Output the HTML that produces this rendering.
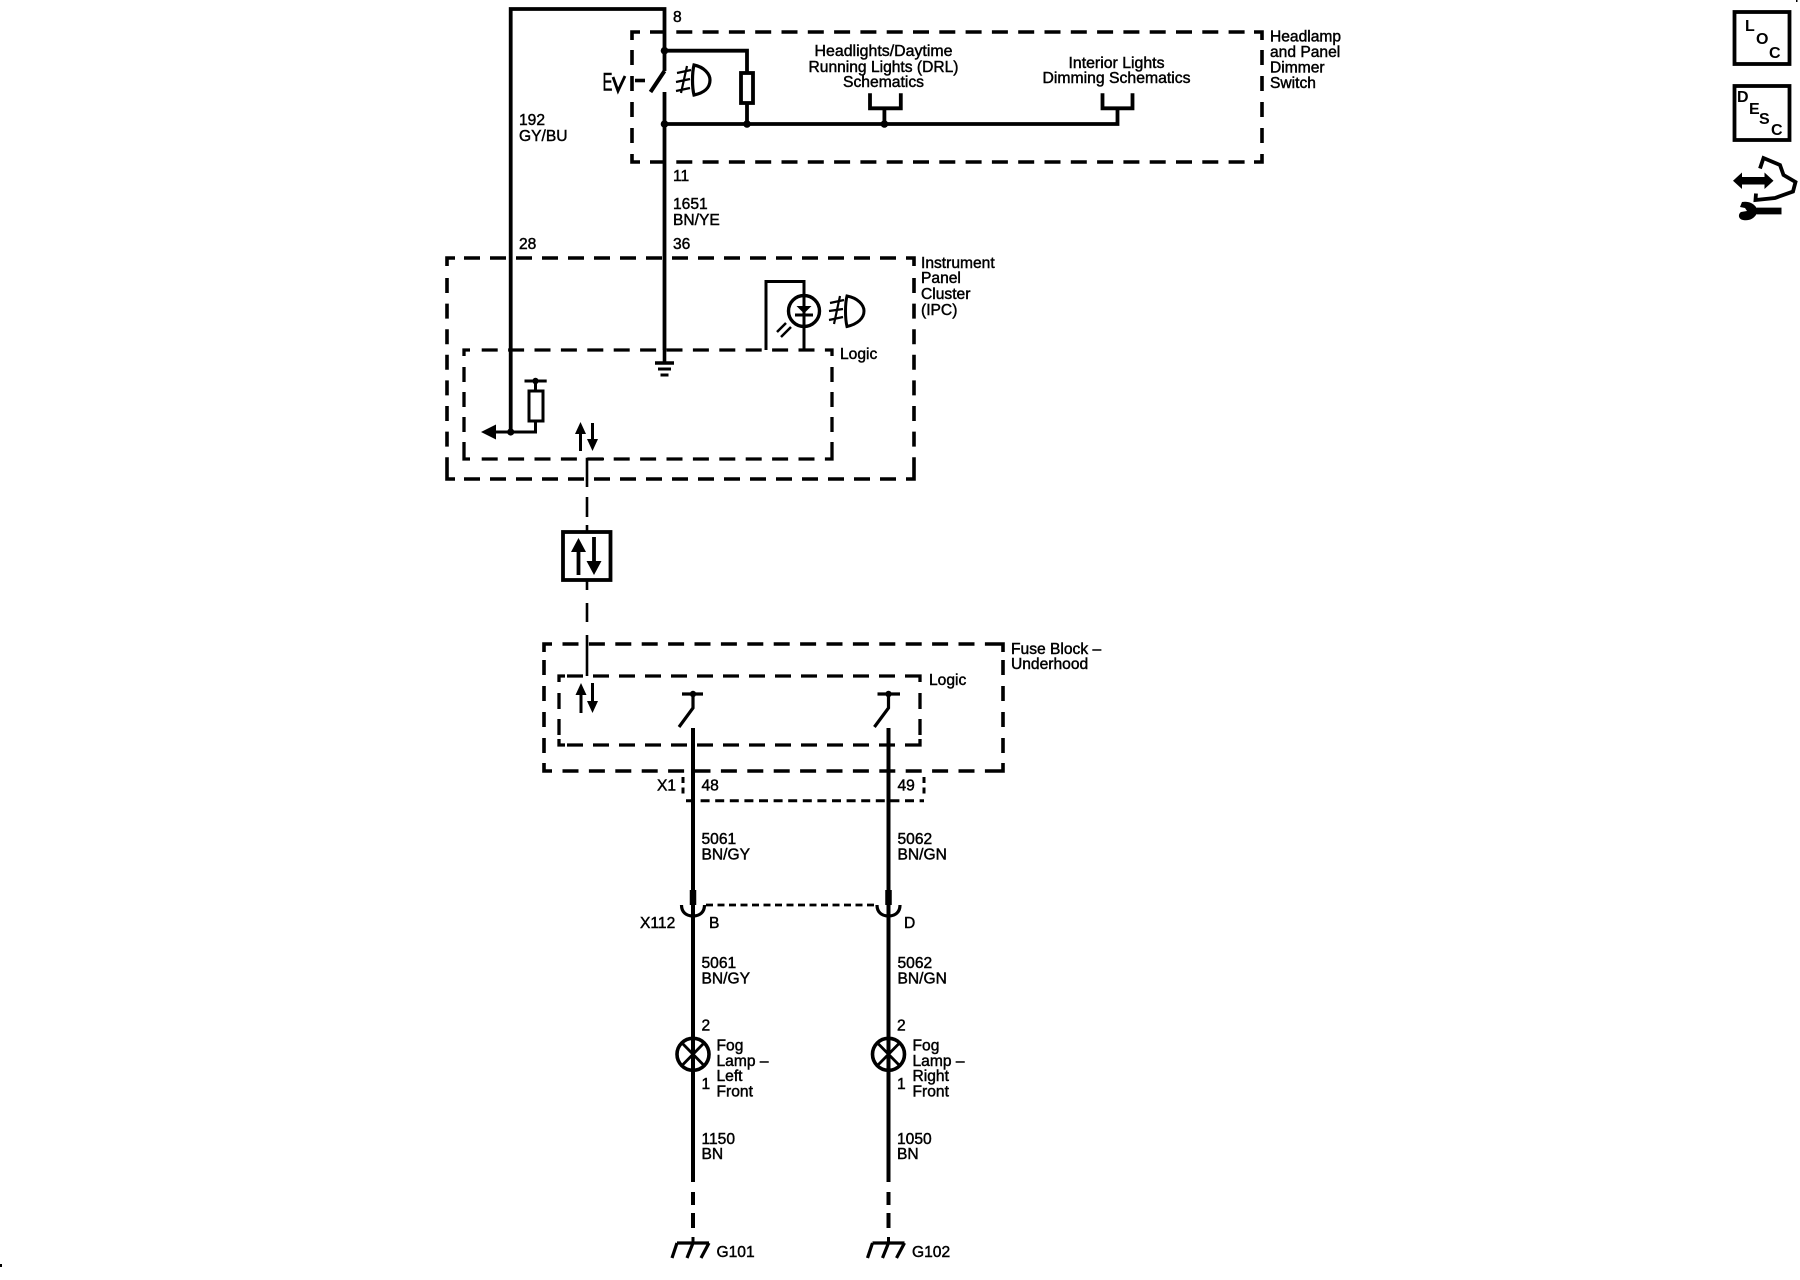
<!DOCTYPE html>
<html>
<head>
<meta charset="utf-8">
<style>
html,body{margin:0;padding:0;background:#fff;}
svg{display:block;}
text{font-family:"Liberation Sans",sans-serif;font-size:15.6px;fill:#000;stroke:#000;stroke-width:.45;}
.c{text-anchor:middle;}
.big{font-size:16px;font-weight:bold;stroke:none;}
</style>
</head>
<body>
<svg width="1800" height="1280" viewBox="0 0 1800 1280" xmlns="http://www.w3.org/2000/svg">
<rect width="1800" height="1280" fill="#fff"/>
<g fill="none" stroke="#000" stroke-width="3.6">
  <!-- dashed module boxes -->
  <path stroke-dasharray="16 10.3" d="M650 32H1254M650 162H1254"/>
  <path stroke-dasharray="15 11" d="M632 50V154M1262 50V154"/>
  <path stroke-dasharray="16 10" d="M464 258H906M464 479H906"/>
  <path stroke-dasharray="15 10.6" d="M447 278V471M914 278V471"/>
  <path stroke-dasharray="16 10.4" d="M562.5 644H995M562.5 771H995"/>
  <path stroke-dasharray="15 11" d="M544 660V763M1003 660V763"/>
  <g stroke-width="3.3">
    <path stroke-dasharray="16 10.4" d="M481.7 350H826M481.7 459H826"/>
    <path stroke-dasharray="15 10" d="M464 367V453M832 367V453"/>
    <path stroke-dasharray="16 10" d="M567 676H914M567 745H914"/>
    <path stroke-dasharray="16 10" d="M559 693V739M920 693V739"/>
  </g>
  <!-- corners -->
  <path d="M632 40V32H640M1254 32H1262V40M632 154V162H640M1254 162H1262V154"/>
  <path d="M447 266V258H455M906 258H914V266M447 471V479H455M906 479H914V471"/>
  <path d="M544 652V644H552M995 644H1003V652M544 763V771H552M995 771H1003V763"/>
  <path stroke-width="3.3" d="M464 356V350H470M826 350H832V356M464 453V459H470M826 459H832V453"/>
  <path stroke-width="3.3" d="M559 682V676H565M914 676H920V682M559 739V745H565M914 745H920V739"/>

  <!-- top wires -->
  <path stroke-width="3.8" d="M510.7 432V9H664.5V71M664.5 92V350"/>
  <path stroke-width="3.8" d="M664.5 50.7H747V73M747 103V124M664.5 124H1117.5V108.3"/>
  <path stroke-width="3.8" d="M870 93.3V108.3H900.8V93.3M884.4 108.3V124"/>
  <path stroke-width="3.8" d="M1102.5 93.3V108.3H1132.5V93.3"/>
  <rect x="741" y="73" width="12" height="30" stroke-width="3.8"/>
  <path stroke-width="4" d="M650.5 92L664.5 71"/>
  <path stroke-width="3.6" d="M635 80.5H645"/>

  <!-- headlamp icon top -->
  <path stroke-width="3.2" d="M694 65C704 67 710 74 710 80C710 88 704 93 694 95C692 87 692 73 694 65Z"/>
  <path stroke-width="2.2" d="M687 66L681 93M677 73L691 70M676 82L690 79M676 91L690 88"/>

  <!-- IPC internals -->
  <path stroke-width="3" d="M766 350V281.5H804V350"/>
  <circle cx="804" cy="311" r="15.5" stroke-width="3.4"/>
  <path stroke-width="3" d="M795 315H813"/>
  <path stroke-width="3" d="M847 296C858 298 864 305 864 311C864 318 858 324 847 326.5C845 318 845 304 847 296Z"/>
  <path stroke-width="2.2" d="M840 296L834 324M830 303L844 300M829 311L843 309M829 320L843 317"/>
  <path stroke-width="2.5" d="M777 332L786 323M781 337L791 327"/>

  <!-- IPC ground -->
  <path stroke-width="3.6" d="M664.5 350V363M655 363H674"/>
  <path stroke-width="3" d="M658 369H671M660.5 375H668.5"/>

  <!-- pull-up + output arrow -->
  <path stroke-width="3" d="M524.5 381H546.7M535.5 381V391M535.5 421V432H496"/>
  <rect x="529" y="391" width="14" height="30" stroke-width="3"/>

  <!-- data arrows in IPC -->
  <path stroke-width="3" d="M580.5 433V451M592.5 423V441"/>

  <!-- data bus -->
  <path stroke-width="2.6" d="M604 459H587V487M587 497V517M587 525V531M587 581V590M587 603V622M587 635V676"/>
  <rect x="563" y="532" width="47.5" height="48" stroke-width="3.8"/>
  <path stroke-width="3.8" d="M578.5 550V575M594 537V562"/>

  <!-- fuse block internals -->
  <path stroke-width="3" d="M581 694V713M592.5 683V702"/>
  <path stroke-width="3.2" d="M682 694H703M693 694V708L679 727M877.5 694H900M888.5 694V708L874.4 727"/>

  <!-- main output wires -->
  <path stroke-width="4" d="M693 728V1182M888.5 728V1182"/>
  <path stroke-width="6.5" d="M693 890V905M888.5 890V905"/>
  <path stroke-width="3.2" d="M681.5 905C681.5 912 686 916 693 916C700 916 704.5 912 704.5 905M877 905C877 912 881.5 916 888.5 916C895.5 916 900 912 900 905"/>
  <path stroke-width="2.8" stroke-dasharray="7 4.5" d="M706 905H876"/>
  <path stroke-width="3" stroke-dasharray="6 4.5" d="M683 777V796"/>
  <path stroke-width="3" stroke-dasharray="6 4.5" d="M924 777V796"/>
  <path stroke-width="3" stroke-dasharray="9 5.6" d="M686 800.7H924"/>

  <!-- lamps -->
  <circle cx="693" cy="1054.3" r="16" stroke-width="3.6"/>
  <circle cx="888.5" cy="1054.3" r="16" stroke-width="3.6"/>
  <path stroke-width="2.8" d="M682 1043L704 1065.5M704 1043L682 1065.5M877.5 1043L899.5 1065.5M899.5 1043L877.5 1065.5"/>

  <!-- ground dashes -->
  <path stroke-width="4" d="M693 1192V1205M693 1213V1228M888.5 1192V1205M888.5 1213V1228"/>
  <path stroke-width="3" d="M693 1237V1243M888.5 1237V1243"/>
  <path stroke-width="3.2" d="M677 1243H709M677 1243L672 1258M693 1243L687 1258M709 1243L701 1258M872.5 1243H904.5M872.5 1243L867.5 1258M888.5 1243L882.5 1258M904.5 1243L896.5 1258"/>

  <!-- side icon boxes -->
  <rect x="1734.5" y="12" width="55" height="52" stroke-width="3.8"/>
  <rect x="1734.5" y="86" width="55" height="54" stroke-width="3.8"/>
  <!-- service icon -->
  <path stroke-width="3.8" d="M1760 168.5L1763.5 158L1780 165L1783.5 175L1795.5 182L1793 191.5L1775 198L1755.5 200L1756 193.5"/>
  <path stroke-width="7.5" d="M1740 180.7H1766"/>
  <path stroke-width="6.8" d="M1750 211H1781.5"/>

  <!-- E-v actuator glyph -->
  <path stroke-width="2.8" d="M613 77L618 91L625 76"/>
</g>

<!-- solid fills -->
<g fill="#000">
  <rect x="0" y="1264" width="2" height="3"/>
  <rect x="1796" y="0" width="1.5" height="2"/>
  <circle cx="664.5" cy="50.7" r="3.8"/><circle cx="664.5" cy="124" r="3.8"/>
  <circle cx="747" cy="124" r="3.8"/><circle cx="884.4" cy="124" r="3.8"/>
  <circle cx="510.7" cy="432" r="3.6"/><circle cx="535.5" cy="381" r="3.2"/>
  <circle cx="693" cy="694" r="3.2"/><circle cx="888.5" cy="694" r="3.2"/>
  <path d="M481 432L496 424.5V439.5Z"/>
  <path d="M796.5 306H811.5L804 313.5Z"/>
  <path d="M580.5 422L575 434H586Z"/><path d="M592.5 451L587 439H598Z"/>
  <path d="M578.5 538L571 552H586Z"/><path d="M594 575L586.5 561H601.5Z"/>
  <path d="M581 683L575.5 695H586.5Z"/><path d="M592.5 713L587 701H598Z"/>
  <path d="M1733 180.7L1742 172.5V189Z"/><path d="M1773.5 180.7L1764.5 172.5V189Z"/>
  <path d="M1742 202C1748 201 1753 203 1756 207V215C1753 219 1749 221 1743 220C1738 219 1738 214 1741 212L1747 211L1745 208L1740 207Z"/>
</g>

<!-- labels -->
<text x="673" y="22">8</text>
<text x="519" y="125">192</text>
<text x="519" y="141">GY/BU</text>
<text x="673" y="181">11</text>
<text x="673" y="209">1651</text>
<text x="673" y="225">BN/YE</text>
<text x="519" y="249">28</text>
<text x="673" y="249">36</text>
<text x="602.5" y="90.5" style="font-size:25px" textLength="10" lengthAdjust="spacingAndGlyphs">E</text>

<text class="c" x="883.5" y="56" textLength="138" lengthAdjust="spacingAndGlyphs">Headlights/Daytime</text>
<text class="c" x="883.5" y="72" textLength="150" lengthAdjust="spacingAndGlyphs">Running Lights (DRL)</text>
<text class="c" x="883.5" y="87" textLength="81" lengthAdjust="spacingAndGlyphs">Schematics</text>
<text class="c" x="1116.5" y="68" textLength="96" lengthAdjust="spacingAndGlyphs">Interior Lights</text>
<text class="c" x="1116.5" y="83" textLength="148" lengthAdjust="spacingAndGlyphs">Dimming Schematics</text>

<text x="1270" y="41.5">Headlamp</text>
<text x="1270" y="57">and Panel</text>
<text x="1270" y="72.5">Dimmer</text>
<text x="1270" y="88">Switch</text>

<text x="921" y="268">Instrument</text>
<text x="921" y="283">Panel</text>
<text x="921" y="299">Cluster</text>
<text x="921" y="315">(IPC)</text>
<text x="840" y="359">Logic</text>

<text x="1011" y="654">Fuse Block –</text>
<text x="1011" y="669">Underhood</text>
<text x="929" y="685">Logic</text>

<text x="657" y="790.5">X1</text>
<text x="701.5" y="790.5">48</text>
<text x="897.5" y="790.5">49</text>
<text x="701.5" y="844">5061</text>
<text x="701.5" y="859.5">BN/GY</text>
<text x="897.5" y="844">5062</text>
<text x="897.5" y="859.5">BN/GN</text>
<text x="640" y="928">X112</text>
<text x="709" y="928">B</text>
<text x="904" y="928">D</text>
<text x="701.5" y="968">5061</text>
<text x="701.5" y="983.5">BN/GY</text>
<text x="897.5" y="968">5062</text>
<text x="897.5" y="983.5">BN/GN</text>

<text x="701.5" y="1030.5">2</text>
<text x="701.5" y="1089">1</text>
<text x="897" y="1030.5">2</text>
<text x="897" y="1089">1</text>
<text x="716.5" y="1050.5">Fog</text>
<text x="716.5" y="1066">Lamp –</text>
<text x="716.5" y="1081">Left</text>
<text x="716.5" y="1096.5">Front</text>
<text x="912.5" y="1050.5">Fog</text>
<text x="912.5" y="1066">Lamp –</text>
<text x="912.5" y="1081">Right</text>
<text x="912.5" y="1096.5">Front</text>
<text x="701.5" y="1144">1150</text>
<text x="701.5" y="1159">BN</text>
<text x="897" y="1144">1050</text>
<text x="897" y="1159">BN</text>
<text x="716.5" y="1257">G101</text>
<text x="912" y="1257">G102</text>

<text class="big" x="1745" y="31">L</text>
<text class="big" x="1756" y="44">O</text>
<text class="big" x="1769" y="58">C</text>
<text class="big" x="1737" y="102">D</text>
<text class="big" x="1749" y="114">E</text>
<text class="big" x="1759" y="124">S</text>
<text class="big" x="1771" y="135">C</text>
</svg>
</body>
</html>
